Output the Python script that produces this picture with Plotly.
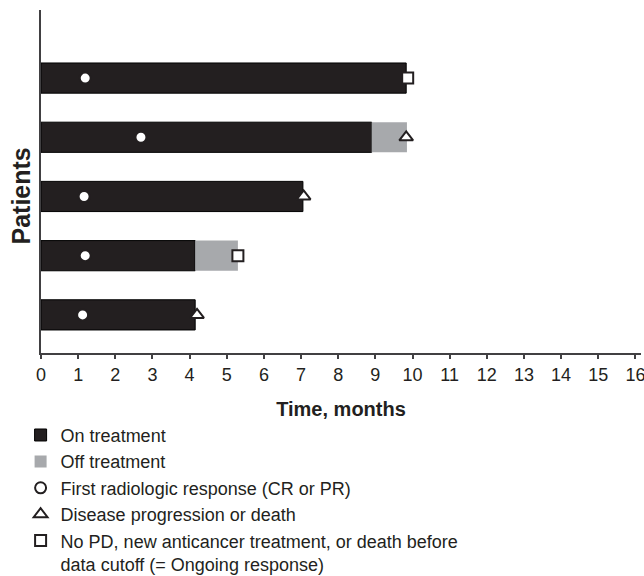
import plotly.graph_objects as go

# rows listed bottom -> top (row index 0 = bottom patient)
rows = [0, 1, 2, 3, 4]
on_treatment = [4.15, 4.15, 7.05, 8.9, 9.83]
off_treatment = [0.0, 1.15, 0.0, 0.95, 0.0]
first_response = [1.12, 1.19, 1.16, 2.69, 1.19]
progression_rows = [0, 2, 3]
progression_time = [4.2, 7.07, 9.83]
ongoing_rows = [1, 4]
ongoing_time = [5.3, 9.87]
x_ticks = list(range(0, 17))

ink = "#231f20"
grey = "#a7a9ac"
font = "Liberation Sans, Arial, sans-serif"
narrow = "Liberation Sans Narrow, Liberation Sans, Arial, sans-serif"

fig = go.Figure()
fig.add_trace(go.Bar(
    y=rows, x=on_treatment, orientation="h", base=0, width=0.51,
    marker=dict(color=ink, line=dict(width=1, color="#000000")), name="On treatment",
))
fig.add_trace(go.Bar(
    y=rows, x=off_treatment, orientation="h", base=on_treatment, width=0.51,
    marker=dict(color=grey, line=dict(width=0)), name="Off treatment",
))
fig.add_trace(go.Scatter(
    y=rows, x=first_response, mode="markers", name="First radiologic response (CR or PR)",
    marker=dict(symbol="circle", size=11, color="white", line=dict(color=ink, width=2)),
))
fig.add_trace(go.Scatter(
    y=progression_rows, x=progression_time, mode="markers", name="Disease progression or death",
    marker=dict(symbol="triangle-up", size=12, color="white", line=dict(color=ink, width=2)),
))
fig.add_trace(go.Scatter(
    y=ongoing_rows, x=ongoing_time, mode="markers",
    name="No PD, new anticancer treatment, or death before<br>data cutoff (= Ongoing response)",
    marker=dict(symbol="square", size=11, color="white", line=dict(color=ink, width=2)),
))

fig.update_layout(
    width=644, height=576,
    margin=dict(l=41, r=3, t=10, b=223, autoexpand=False),
    plot_bgcolor="white", paper_bgcolor="white",
    barmode="overlay",
    font=dict(family=font, color=ink, size=16),
    showlegend=True,
    legend=dict(
        orientation="v", x=-0.034, xanchor="left", y=-0.186, yanchor="top",
        font=dict(size=18, color=ink, family=font), tracegroupgap=0,
        itemwidth=30, bgcolor="rgba(0,0,0,0)", valign="top",
    ),
    xaxis=dict(
        range=[0, 16.15], tickmode="array", tickvals=x_ticks,
        ticks="outside", ticklen=4, tickwidth=1.5, tickcolor="#414042",
        showline=True, linecolor="#414042", linewidth=2, showgrid=False, zeroline=False,
        tickfont=dict(size=18, color=ink, family=narrow), ticklabeloverflow="allow",
        title=dict(text="<b>Time, months</b>", font=dict(size=20, color=ink), standoff=18),
    ),
    yaxis=dict(
        range=[-0.644, 5.15], showticklabels=False, ticks="",
        showline=True, linecolor="#414042", linewidth=2, showgrid=False, zeroline=False,
    ),
    annotations=[dict(
        text="<b>Patients</b>", textangle=-90, xref="paper", yref="y",
        x=0, y=2, xshift=-20, xanchor="center", yanchor="middle",
        showarrow=False, font=dict(size=25, color=ink),
    )],
)

fig.write_html(
    "out.html",
    config={"displayModeBar": False},
    post_script="document.body.style.margin='0';document.body.style.overflow='hidden';",
)
